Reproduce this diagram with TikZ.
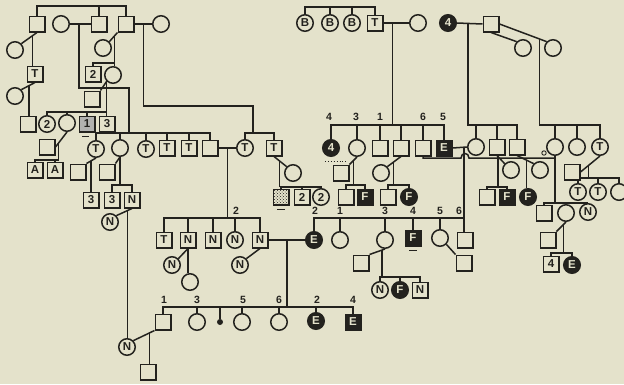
\documentclass[tikz,border=0pt]{standalone}
\usepackage{fontspec}
\setmainfont{Liberation Sans}
\usetikzlibrary{calc,patterns}
\definecolor{bg}{RGB}{228,226,203}
\definecolor{ink}{RGB}{35,34,30}
\pgfdeclarelayer{paper}
\pgfdeclarelayer{back}
\pgfsetlayers{paper,back,main}
\begin{document}
\begin{tikzpicture}[x=1pt,y=-1pt,
  ln/.style={draw=ink,line width=1.5pt},
  sym/.style={draw=ink,line width=1.5pt,fill=bg,inner sep=0pt,text=ink,font=\bfseries\fontsize{11.5}{11.5}\selectfont},
  sq/.style={sym,rectangle,minimum size=15.5pt},
  ci/.style={sym,circle,minimum size=16.5pt},
  bsq/.style={sq,fill=ink,text=bg},
  bci/.style={ci,fill=ink,text=bg},
  num/.style={font=\bfseries\fontsize{10.5}{10.5}\selectfont,text=ink,inner sep=0pt},
]
\begin{pgfonlayer}{paper}
\fill[bg] (0,0) rectangle (624,384);
\end{pgfonlayer}
\useasboundingbox (0,0) rectangle (624,384);

% ---------- nodes, left part ----------
\node[sq] (A1) at (37,24) {};
\node[ci] (A2) at (61,24) {};
\node[sq] (A3) at (99,24) {};
\node[sq] (A4) at (126,24) {};
\node[ci] (A5) at (161,24) {};
\node[ci] (B1) at (15,50) {};
\node[sq] (B2) at (35,74) {T};
\node[ci] (B3) at (15,96) {};
\node[sq] (B4) at (28,124) {};
\node[ci] (C1) at (103,48) {};
\node[sq] (C2) at (93,74) {2};
\node[ci] (C3) at (113,75) {};
\node[sq] (C4) at (92,99) {};
\node[ci] (D1) at (47,124) {2};
\node[ci] (D2) at (67,123) {};
\node[sq,fill=ink!35] (D3) at (87,124) {1};
\node[sq] (D4) at (107,124) {3};
\node[sq] (E1) at (47,147) {};
\node[sq] (E2) at (35,170) {A};
\node[sq] (E3) at (55,170) {A};

\node[ci] (F1) at (96,149) {T};
\node[ci] (F2) at (120,148) {};
\node[ci] (F3) at (146,149) {T};
\node[sq] (F4) at (167,148) {T};
\node[sq] (F5) at (189,148) {T};
\node[sq] (F6) at (210,148) {};
\node[ci] (F7) at (245,148) {T};
\node[sq] (F8) at (274,148) {T};
\node[sq] (G1) at (78,172) {};
\node[sq] (G2) at (107,172) {};
\node[sq] (H1) at (91,200) {3};
\node[sq] (H2) at (112,200) {3};
\node[sq] (H3) at (132,200) {N};
\node[ci] (H4) at (110,222) {N};
\node[ci] (G3) at (293,173) {};
\node[sq,pattern=crosshatch dots,pattern color=ink] (H5) at (281,197) {};
\node[sq] (H6) at (302,197) {2};
\node[ci] (H7) at (321,197) {2};

\node[sq] (I1) at (164,240) {T};
\node[sq] (I2) at (188,240) {N};
\node[sq] (I3) at (213,240) {N};
\node[ci] (I4) at (235,240) {N};
\node[sq] (I5) at (260,240) {N};
\node[ci] (J1) at (172,265) {N};
\node[ci] (J2) at (190,282) {};
\node[ci] (J3) at (240,265) {N};

\node[sq] (K1) at (163,322) {};
\node[ci] (K2) at (197,322) {};
\node[circle,fill=ink,minimum size=6pt,inner sep=0pt] (K3) at (220,322) {};
\node[ci] (K4) at (242,322) {};
\node[ci] (K5) at (279,322) {};
\node[bci] (K6) at (316,321) {E};
\node[bsq] (K7) at (353,322) {E};
\node[ci] (L1) at (127,347) {N};
\node[sq] (L2) at (148,372) {};

% ---------- nodes, right part ----------
\node[ci] (R1) at (305,23) {B};
\node[ci] (R2) at (330,23) {B};
\node[ci] (R3) at (352,23) {B};
\node[sq] (R4) at (375,23) {T};
\node[ci] (R5) at (418,23) {};
\node[bci] (R6) at (448,23) {4};
\node[sq] (R7) at (491,24) {};
\node[ci] (R8) at (523,48) {};
\node[ci] (R9) at (553,48) {};

\node[bci] (S1) at (331,148) {4};
\node[ci] (S2) at (357,148) {};
\node[sq] (S3) at (380,148) {};
\node[sq] (S4) at (401,148) {};
\node[sq] (S5) at (423,148) {};
\node[bsq] (S6) at (444,148) {E};
\node[ci] (S7) at (476,147) {};
\node[sq] (S8) at (497,147) {};
\node[sq] (S9) at (517,147) {};
\node[ci] (S10) at (555,147) {};
\node[ci] (S11) at (577,147) {};
\node[ci] (S12) at (600,147) {T};

\node[sq] (T1) at (341,173) {};
\node[ci] (T2) at (381,173) {};
\node[ci] (T3) at (511,170) {};
\node[ci] (T4) at (540,170) {};
\node[sq] (T5) at (572,172) {};

\node[sq] (U1) at (346,197) {};
\node[bsq] (U2) at (365,197) {F};
\node[sq] (U3) at (388,197) {};
\node[bci] (U4) at (409,197) {F};
\node[sq] (U5) at (487,197) {};
\node[bsq] (U6) at (507,197) {F};
\node[bci] (U7) at (528,197) {F};
\node[ci] (U8) at (578,192) {T};
\node[ci] (U9) at (598,192) {T};
\node[circle,minimum size=16.5pt,inner sep=0pt] (U10) at (619,192) {};

\node[sq] (V1) at (544,213) {};
\node[ci] (V2) at (566,213) {};
\node[ci] (V3) at (588,212) {N};

\node[bci] (W1) at (314,240) {E};
\node[ci] (W2) at (340,240) {};
\node[ci] (W3) at (385,240) {};
\node[bsq] (W4) at (413,238) {F};
\node[ci] (W5) at (440,238) {};
\node[sq] (W6) at (465,240) {};
\node[sq] (X1) at (361,263) {};
\node[sq] (X2) at (464,263) {};
\node[sq] (X3) at (548,240) {};
\node[ci] (Y1) at (380,290) {N};
\node[bci] (Y2) at (400,290) {F};
\node[sq] (Y3) at (420,290) {N};
\node[sq] (Y4) at (551,264) {4};
\node[bci] (Y5) at (572,265) {E};

% ---------- labels ----------
\node[num] (l1) at (236,211) {2};
\foreach \t/\x in {1/164,3/197,5/243,6/279,2/317,4/353} \node[num] at (\x,300) {\t};
\foreach \t/\x in {4/329,3/356,1/380,6/423,5/443} \node[num] at (\x,117) {\t};
\foreach \t/\x in {2/315,1/340,3/385,4/413,5/440,6/459} \node[num] at (\x,211) {\t};

% ---------- connectors ----------
\begin{pgfonlayer}{back}
% left top
\draw[ln] (A1.north) |- (A4.north |- 0,6) -- (A4.north);
\draw[ln] (A3.north) -- (A3.north |- 0,6);
\draw[ln] (A2.east) -- (A3.west);
\draw[ln] (A4.east) -- (A5.west);
\coordinate (m1) at ($(A2.east)!0.45!(A3.west)$);
\coordinate (j1) at (129,133);
\draw[ln] (m1) |- (j1 |- 0,88) -- (j1);
\coordinate (m2) at ($(A4.east)!0.5!(A5.west)$);
\coordinate (j2) at (253,133);
\draw[ln] (m2) |- (j2 |- 0,106) -- (j2);
\draw[ln] (F1.north) |- (F6.north |- 0,133) -- (F6.north);
\foreach \n in {F2,F3,F4,F5} \draw[ln] (\n.north) -- (\n.north |- 0,133);
\draw[ln] (F7.north) |- (F8.north |- 0,133) -- (F8.north);

\draw[ln] (A1.south) -- (B1.north east);
\coordinate (p1) at ($(A1.south)!0.3!(B1.north east)$);
\draw[ln] (p1) -- (p1 |- B2.north);
\draw[ln] (B2.south) -- (B3.north east);
\coordinate (p2) at ($(B2.south)!0.45!(B3.north east)$);
\draw[ln] (p2) -- (p2 |- B4.north);

\draw[ln] (A4.south west) -- (C1.north east);
\coordinate (p3) at ($(A4.south west)!0.35!(C1.north east)$);
\draw[ln] (C2.north) |- (p3 |- 0,63);
\draw[ln] (p3) -- (p3 |- C3.north);
\draw[ln] (C3.south west) -- (C4.north east);
\draw[ln] (C3.south west) -- (C3.south west |- D4.north);
\draw[ln] (D1.north) |- (D4.north |- 0,112);
\foreach \n in {D2,D3} \draw[ln] (\n.north) -- (\n.north |- 0,112);

\draw[ln] (D2.south) -- (E1.east);
\coordinate (p4) at ($(D2.south)!0.72!(E1.east)$);
\draw[ln] (E2.north) |- (p4 |- 0,160) -- (p4);
\draw[ln] (E3.north) -- (E3.north |- 0,160);

\draw[ln] (F1.south) -- (G1.north east);
\coordinate (p5) at ($(F1.south)!0.55!(G1.north east)$);
\draw[ln] (p5) -- (p5 |- H1.north);
\draw[ln] (F2.south) -- (G2.north east);
\draw[ln] (F2.south) -- (F2.south |- 0,185);
\draw[ln] (H2.north) |- (H3.north |- 0,185) -- (H3.north);
\draw[ln] (H3.south) -- (H4.north east);
\coordinate (p6) at ($(H3.south)!0.3!(H4.north east)$);
\draw[ln] (p6) -- (p6 |- L1.north);

\draw[ln] (F6.east) -- (F7.west);
\coordinate (m3) at ($(F6.east)!0.5!(F7.west)$);
\draw[ln] (m3) -- (m3 |- 0,218);
\draw[ln] (I1.north) |- (I5.north |- 0,218) -- (I5.north);
\foreach \n in {I2,I3,I4} \draw[ln] (\n.north) -- (\n.north |- 0,218);

\draw[ln] (F8.south) -- (G3.north west);
\coordinate (p7) at ($(F8.south)!0.45!(G3.north west)$);
\draw[ln] (p7) -- (p7 |- 0,187);
\draw[ln] (H5.north) |- (H7.north |- 0,187) -- (H7.north);
\draw[ln] (H6.north) -- (H6.north |- 0,187);

\draw[ln] (I2.south) -- (J1.north east);
\draw[ln] (I2.south) -- (I2.south |- J2.north);
\draw[ln] (I5.south) -- (J3.north east);
\draw[ln] (I5.east) -- (W1.west);
\coordinate (m4) at ($(I5.east)!0.5!(W1.west)$);
\draw[ln,line width=2.4pt] (m4) -- (m4 |- 0,307);
\draw[ln] (K1.north) |- (K7.north |- 0,307) -- (K7.north);
\foreach \n in {K2,K3,K4,K5,K6} \draw[ln] (\n.north) -- (\n.north |- 0,307);
\draw[ln] (K1.south west) -- (L1.north east);
\coordinate (p8) at ($(K1.south west)!0.24!(L1.north east)$);
\draw[ln] (p8) -- (p8 |- L2.north);

% right
\draw[ln] (R1.north) |- (R4.north |- 0,7) -- (R4.north);
\foreach \n in {R2,R3} \draw[ln] (\n.north) -- (\n.north |- 0,7);
\draw[ln] (R4.east) -- (R5.west);
\coordinate (m5) at ($(R4.east)!0.35!(R5.west)$);
\draw[ln] (m5) -- (m5 |- 0,125);
\draw[ln] (S1.north) |- (S6.north |- 0,125) -- (S6.north);
\foreach \n in {S2,S3,S4,S5} \draw[ln] (\n.north) -- (\n.north |- 0,125);
\draw[ln] (R6.east) -- (R7.west);
\coordinate (m6) at ($(R6.east)!0.44!(R7.west)$);
\draw[ln] (m6) |- (S9.north |- 0,125) -- (S9.north);
\foreach \n in {S7,S8} \draw[ln] (\n.north) -- (\n.north |- 0,125);
\draw[ln] (R7.south) -- (R8.north west);
\draw[ln] (R7.east) -- (R9.north west);
\coordinate (p9) at ($(R7.east)!0.85!(R9.north west)$);
\draw[ln] (p9) |- (S12.north |- 0,125) -- (S12.north);
\foreach \n in {S10,S11} \draw[ln] (\n.north) -- (\n.north |- 0,125);

\draw[ln] (S2.south) -- (T1.north east);
\coordinate (p10) at ($(S2.south)!0.47!(T1.north east)$);
\draw[ln] (p10) -- (p10 |- 0,185);
\draw[ln] (U1.north) |- (U2.north |- 0,185) -- (U2.north);
\draw[ln] (S4.south) -- (T2.north east);
\coordinate (p11) at ($(S4.south)!0.56!(T2.north east)$);
\draw[ln] (p11) -- (p11 |- 0,185);
\draw[ln] (U3.north) |- (U4.north |- 0,185) -- (U4.north);

\coordinate (h1) at (461,158);
\coordinate (h2) at (469,158);
\draw[ln] (S5.south) |- (h1) .. controls (461,152) and (469,152) .. (h2) -- (S10.south |- h2) -- (S10.south);
\draw[ln] (S10.south) -- (S10.south |- 0,203);
\draw[ink,line width=0.9pt] (544,153) circle[radius=2.2pt];
\draw[ln] (V1.north) |- (V3.north |- 0,203) -- (V3.north);
\draw[ln] (V2.north) -- (V2.north |- 0,203);

\draw[ln] (S6.east) -- (S7.west);
\coordinate (m7) at ($(S6.east)!0.8!(S7.west)$);
\draw[ln] (m7) -- (m7 |- W6.north);
\draw[ln] (W1.north) |- (m7 |- 0,218);
\foreach \n in {W2,W3,W4,W5} \draw[ln] (\n.north) -- (\n.north |- 0,218);

\draw[ln] (S8.south) -- (T3.north west);
\coordinate (p12) at ($(S8.south)!0.12!(T3.north west)$);
\draw[ln] (p12) -- (p12 |- 0,187);
\draw[ln] (U5.north) |- (U6.north |- 0,187) -- (U6.north);
\draw[ln] (S9.south) -- (T4.north west);
\coordinate (p13) at ($(S9.south)!0.58!(T4.north west)$);
\draw[ln] (p13) -- (p13 |- U7.north);

\draw[ln] (S12.south) -- (T5.east);
\coordinate (p14) at ($(S12.south)!0.585!(T5.east)$);
\draw[ln] (p14) -- (p14 |- 0,178);
\draw[ln] (U8.north) |- (U10.north |- 0,178) -- (U10.north);
\draw[ln] (U9.north) -- (U9.north |- 0,178);

\draw[ln] (V2.south) -- (X3.north east);
\coordinate (p15) at ($(V2.south)!0.29!(X3.north east)$);
\draw[ln] (p15) -- (p15 |- 0,253);
\draw[ln] (Y4.north) |- (Y5.north |- 0,253) -- (Y5.north);

\draw[ln] (W3.south) -- (X1.north east);
\coordinate (p16) at ($(W3.south)!0.18!(X1.north east)$);
\draw[ln] (p16) -- (p16 |- 0,277);
\draw[ln] (Y1.north) |- (Y3.north |- 0,277) -- (Y3.north);
\draw[ln] (Y2.north) -- (Y2.north |- 0,277);
\draw[ln] (W5.south east) -- (X2.north west);
\end{pgfonlayer}

% open circle at the right edge
\draw[ln] (U10) ++(50:8.25pt) arc[start angle=50,end angle=310,radius=8.25pt];

% small marks
\draw[ln,line width=1.6pt] ($(W4.south)+(-4,4)$) -- ($(W4.south)+(4,4)$);
\draw[ln,line width=1.4pt] ($(D3.south)+(-5,4)$) -- ($(D3.south)+(2,4)$);
\draw[ln,line width=1.4pt] ($(H5.south)+(-4,4)$) -- ($(H5.south)+(4,4)$);
\draw[ink,dotted,line width=0.9pt] ($(S1.south)+(-6,4)$) -- ($(S1.south)+(16,4)$);
\end{tikzpicture}
\end{document}
